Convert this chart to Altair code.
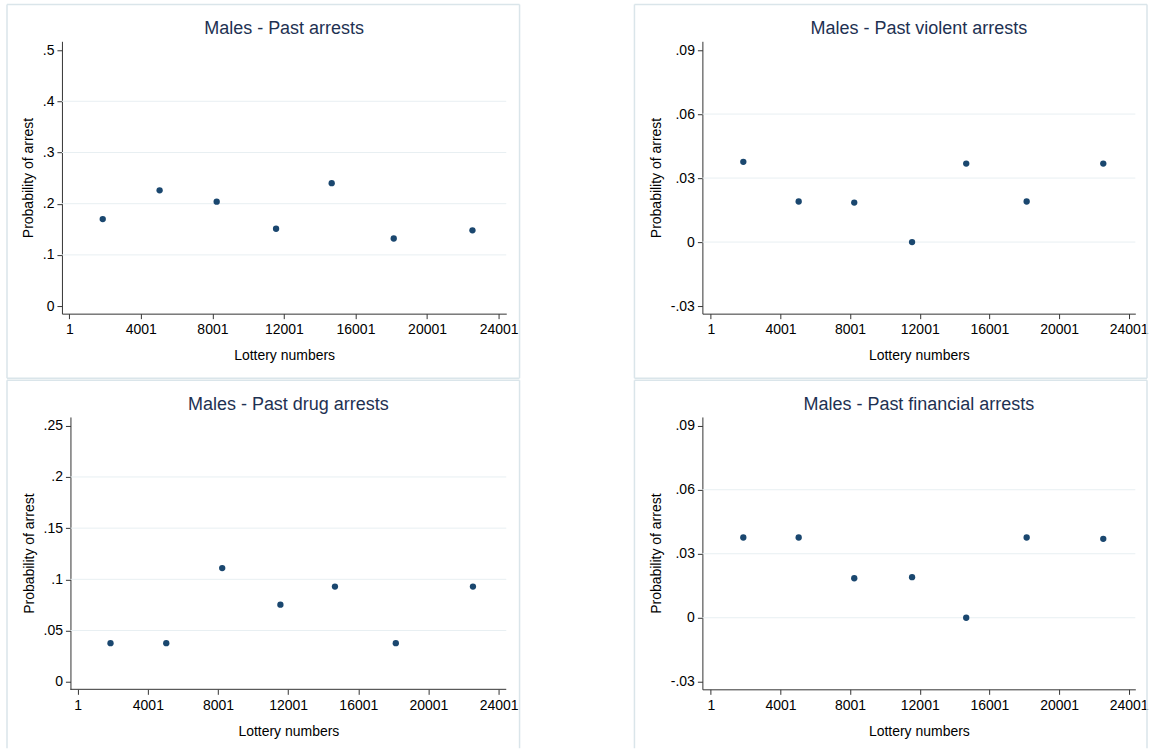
import altair as alt
import pandas as pd

# ---- data ----
LOTTERY = [1870, 5050, 8240, 11560, 14670, 18140, 22540]
PAST_ARRESTS = [0.170, 0.226, 0.204, 0.151, 0.240, 0.132, 0.148]
VIOLENT = [0.0376, 0.0190, 0.0185, 0.0, 0.0368, 0.0190, 0.0368]
DRUG = [0.0377, 0.0377, 0.111, 0.0753, 0.0929, 0.0377, 0.0929]
FINANCIAL = [0.0376, 0.0376, 0.0185, 0.0190, 0.0, 0.0376, 0.0370]

TITLES = [
    "Males - Past arrests",
    "Males - Past violent arrests",
    "Males - Past drug arrests",
    "Males - Past financial arrests",
]
X_TITLE = "Lottery numbers"
Y_TITLE = "Probability of arrest"

X_TICKS = [1, 4001, 8001, 12001, 16001, 20001, 24001]
Y_TICKS_ARRESTS = [0, 0.1, 0.2, 0.3, 0.4, 0.5]
Y_TICKS_SMALL = [-0.03, 0, 0.03, 0.06, 0.09]
Y_TICKS_DRUG = [0, 0.05, 0.1, 0.15, 0.2, 0.25]
GRID_ARRESTS = [0.1, 0.2, 0.3, 0.4]
GRID_SMALL = [0, 0.03, 0.06]
GRID_DRUG = [0.05, 0.1, 0.15, 0.2]

# ---- style ----
FONT = "Liberation Sans"
NAVY = "#1a476f"
TITLE_COLOR = "#1e3152"
GRID = "#e8eff2"
FRAME = "#dae5ea"
AXIS = "#333333"
H = 272.6
ONE = pd.DataFrame({"k": [0]})

LABEL_EXPR = ("(datum.value < 0 ? '-' : '') + "
              "replace(format(abs(datum.value), '.2~f'), '0.', '.')")


def seg(x, y, x2=None, y2=None, color=FRAME, width=1.5):
    enc = dict(x=alt.value(x), y=alt.value(y))
    if x2 is not None:
        enc["x2"] = alt.value(x2)
    if y2 is not None:
        enc["y2"] = alt.value(y2)
    return alt.Chart(ONE).mark_rule(color=color, strokeWidth=width).encode(**enc)


def panel(title, values, ydomain, yticks, grids, xdomain, width,
          frame_left, frame_right, frame_bottom, closed, shift=0.0):
    xs = alt.Scale(domain=xdomain, nice=False, zero=False)
    ys = alt.Scale(domain=ydomain, nice=False, zero=False)
    xaxis = alt.Axis(values=X_TICKS, format="d", title=X_TITLE, grid=False,
                     domain=(shift == 0), labelFlush=False, labelOverlap=False,
                     titleX=(shift + width) / 2)
    yaxis = alt.Axis(values=yticks, labelExpr=LABEL_EXPR, title=Y_TITLE,
                     grid=False, offset=-shift, labelOverlap=False)

    df = pd.DataFrame({"lottery": LOTTERY, "prob": values})
    gdf = pd.DataFrame({"prob": grids})

    layers = []
    ftop = -36.7
    layers.append(seg(frame_left, ftop, x2=frame_right))
    layers.append(seg(frame_left, ftop, y2=frame_bottom))
    layers.append(seg(frame_right, ftop, y2=frame_bottom))
    if closed:
        layers.append(seg(frame_left, frame_bottom, x2=frame_right))

    grid = alt.Chart(gdf).mark_rule(color=GRID, strokeWidth=1).encode(
        y=alt.Y("prob:Q", scale=ys, axis=yaxis),
        x=alt.value(shift), x2=alt.value(width))
    layers.append(grid)

    pts = alt.Chart(df).mark_circle(size=40, color=NAVY, opacity=1).encode(
        x=alt.X("lottery:Q", scale=xs, axis=xaxis),
        y=alt.Y("prob:Q", scale=ys, axis=yaxis))
    layers.append(pts)

    if shift:
        layers.append(seg(shift, H, x2=width, color=AXIS, width=1))

    ttl = alt.Chart(pd.DataFrame({"t": [title]})).mark_text(
        font=FONT, fontSize=18, color=TITLE_COLOR, align="center",
        baseline="middle").encode(
        text="t:N", x=alt.value((shift + width) / 2), y=alt.value(-12))
    layers.append(ttl)

    return alt.layer(*layers).properties(width=width, height=H)


WL = 444.7
WR = 433.3
p1 = panel(TITLES[0], PAST_ARRESTS, [-0.0148, 0.5172], Y_TICKS_ARRESTS,
           GRID_ARRESTS, [-410, 24430], WL, -55, 458, 337.3, True)
p2 = panel(TITLES[1], VIOLENT, [-0.03356, 0.09412], Y_TICKS_SMALL,
           GRID_SMALL, [-480, 24380], WR, -68, 445, 337.3, True)
p3 = panel(TITLES[2], DRUG, [-0.00742, 0.25859], Y_TICKS_DRUG,
           GRID_DRUG, [-899, 24440], WL, -55, 458, 331.5, False, shift=8.5)
p4 = panel(TITLES[3], FINANCIAL, [-0.03356, 0.09412], Y_TICKS_SMALL,
           GRID_SMALL, [-480, 24380], WR, -68, 445, 331.5, False)

chart = alt.concat(
    p1, p2, p3, p4, columns=2, bounds="flush",
    spacing=alt.RowColnumber(row=103, column=196),
).properties(
    padding={"left": 6, "top": 3, "right": 4, "bottom": 0},
    background="white",
).configure_view(stroke=None).configure_axis(
    labelFont=FONT, titleFont=FONT, labelFontSize=14, titleFontSize=14,
    labelColor="black", titleColor="black", titleFontWeight="normal",
    domainColor=AXIS, tickColor=AXIS, domainWidth=1, tickWidth=1, tickSize=5,
).configure_axisX(labelPadding=4, titlePadding=12).configure_axisY(
    labelPadding=3, titlePadding=7, labelAngle=0)

chart.save("out.html", embed_options={"renderer": "svg", "actions": False})
